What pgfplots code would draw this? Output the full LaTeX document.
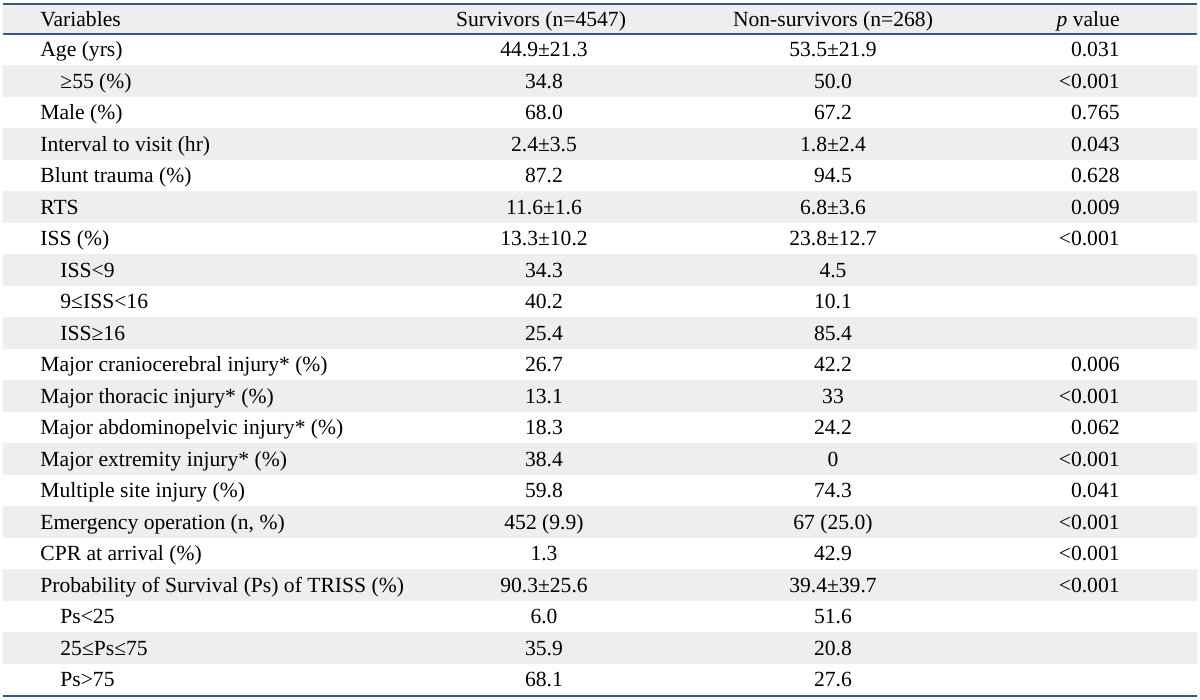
\documentclass[border=0pt]{standalone}
\usepackage{pgfplots}
\pgfplotsset{compat=1.18}
\usepackage{pgfplotstable}
\usepackage{fontspec}
\setmainfont{Liberation Serif}
\definecolor{rule}{HTML}{34568A}
\definecolor{stripe}{HTML}{EDEEEE}
\newcommand{\tabfont}{\fontsize{10.8}{13}\selectfont}

% row index, indent x, variable, survivors, non-survivors, p value
\pgfplotstableread[col sep=&, row sep=\\]{
row & ind & var & surv & non & p \\
1 & 40 & Age (yrs) & 44.9±21.3 & 53.5±21.9 & 0.031 \\
2 & 60 & ≥55 (\%) & 34.8 & 50.0 & <0.001 \\
3 & 40 & Male (\%) & 68.0 & 67.2 & 0.765 \\
4 & 40 & Interval to visit (hr) & 2.4±3.5 & 1.8±2.4 & 0.043 \\
5 & 40 & Blunt trauma (\%) & 87.2 & 94.5 & 0.628 \\
6 & 40 & RTS & 11.6±1.6 & 6.8±3.6 & 0.009 \\
7 & 40 & ISS (\%) & 13.3±10.2 & 23.8±12.7 & <0.001 \\
8 & 60 & ISS<9 & 34.3 & 4.5 & {} \\
9 & 60 & 9≤ISS<16 & 40.2 & 10.1 & {} \\
10 & 60 & ISS≥16 & 25.4 & 85.4 & {} \\
11 & 40 & Major craniocerebral injury* (\%) & 26.7 & 42.2 & 0.006 \\
12 & 40 & Major thoracic injury* (\%) & 13.1 & 33 & <0.001 \\
13 & 40 & Major abdominopelvic injury* (\%) & 18.3 & 24.2 & 0.062 \\
14 & 40 & Major extremity injury* (\%) & 38.4 & 0 & <0.001 \\
15 & 40 & Multiple site injury (\%) & 59.8 & 74.3 & 0.041 \\
16 & 40 & Emergency operation (n, \%) & 452 (9.9) & 67 (25.0) & <0.001 \\
17 & 40 & CPR at arrival (\%) & 1.3 & 42.9 & <0.001 \\
18 & 40 & Probability of Survival (Ps) of TRISS (\%) & 90.3±25.6 & 39.4±39.7 & <0.001 \\
19 & 60 & Ps<25 & 6.0 & 51.6 & {} \\
20 & 60 & 25≤Ps≤75 & 35.9 & 20.8 & {} \\
21 & 60 & Ps>75 & 68.1 & 27.6 & {} \\
}\tbl

\begin{document}
\begin{tikzpicture}
\begin{axis}[
  width=600pt, height=350pt, scale only axis,
  xmin=0, xmax=1200, y dir=reverse,
  hide axis, clip=false,
  y coord trafo/.code={\pgfmathparse{34+31.5*(#1-0.5)}},
  y coord inv trafo/.code={\pgfmathparse{(#1-34)/31.5+0.5}},
  ymin=-0.5794, ymax=21.6429,
  every node near coord/.append style={font=\tabfont, text=black, inner sep=0pt, yshift=-3.6pt},
  nodes near coords={\pgfplotspointmeta},
  point meta=explicit symbolic,
]
\coordinate (bl) at (rel axis cs:0,0);
\coordinate (tr) at (rel axis cs:1,1);
% header band and stripes
\fill[stripe] (axis cs:3,-0.4365) rectangle (axis cs:1197,0.5);
\foreach \r in {2,4,...,20}{
  \edef\tmp{\noexpand\fill[stripe] (axis cs:3,\r-0.5) rectangle (axis cs:1197,\r+0.5);}\tmp
}
% rules
\draw[rule, line width=1pt] (axis cs:3,-0.4365) -- (axis cs:1197,-0.4365);
\draw[rule, line width=0.8pt] (axis cs:3,0.5) -- (axis cs:1197,0.5);
\draw[rule, line width=1pt] (axis cs:3,21.5) -- (axis cs:1197,21.5);
% header
\node[anchor=base west, font=\tabfont, inner sep=0pt, yshift=-3.6pt] at (axis cs:40,0.0238) {Variables};
\node[anchor=base, font=\tabfont, inner sep=0pt, yshift=-3.6pt] at (axis cs:541,0.0238) {Survivors (n=4547)};
\node[anchor=base, font=\tabfont, inner sep=0pt, yshift=-3.6pt] at (axis cs:833,0.0238) {Non-survivors (n=268)};
\node[anchor=base east, font=\tabfont, inner sep=0pt, yshift=-3.6pt] at (axis cs:1120,0.0238) {\textit{p} value};
% body
\addplot[only marks, mark=none, nodes near coords align={anchor=base west}]
  table[x=ind, y=row, meta=var] {\tbl};
\addplot[only marks, mark=none, nodes near coords align={anchor=base}]
  table[x expr=544, y=row, meta=surv] {\tbl};
\addplot[only marks, mark=none, nodes near coords align={anchor=base}]
  table[x expr=833, y=row, meta=non] {\tbl};
\addplot[only marks, mark=none, nodes near coords align={anchor=base east}]
  table[x expr=1120, y=row, meta=p] {\tbl};
\end{axis}
\pgfresetboundingbox
\path (bl) rectangle (tr);
\end{tikzpicture}
\end{document}
